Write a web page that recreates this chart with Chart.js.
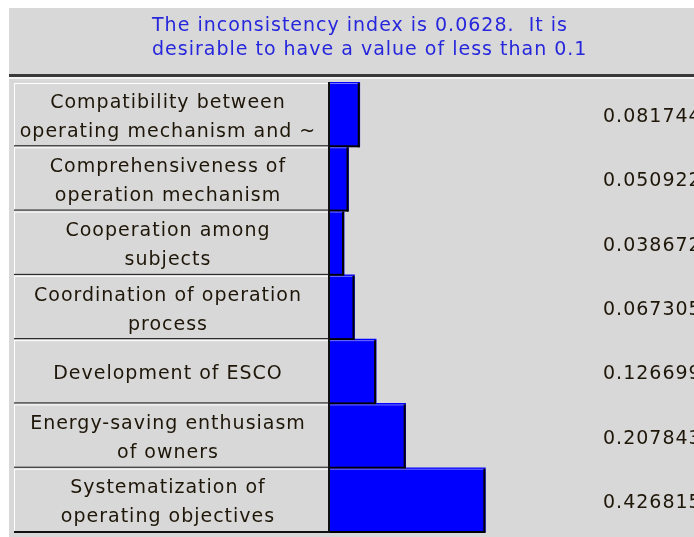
<!DOCTYPE html>
<html lang="en">
<head>
  <meta charset="UTF-8">
  <title>Priorities with respect to goal</title>
  <script src="https://cdn.jsdelivr.net/npm/chart.js"></script>
  <style>
    html, body {
      margin: 0;
      padding: 0;
      background-color: #ffffff;
    }
    #wrap {
      width: 694px;
      height: 537px;
    }
  </style>
</head>
<body>

  <div id="wrap"><canvas id="priorities" width="694" height="537"></canvas></div>

  <script>
    // data
    const categories = [
      ['Compatibility between', 'operating mechanism and ~'],
      ['Comprehensiveness of', 'operation mechanism'],
      ['Cooperation among', 'subjects'],
      ['Coordination of operation', 'process'],
      ['Development of ESCO'],
      ['Energy-saving enthusiasm', 'of owners'],
      ['Systematization of', 'operating objectives']
    ];
    const weights = [0.081744, 0.050922, 0.038672, 0.067305, 0.126699, 0.207843, 0.426815];
    const noteLines = ['The inconsistency index is 0.0628.  It is', 'desirable to have a value of less than 0.1'];

    const GRAY = '#d8d8d8';
    const FONT = '19px "DejaVu Sans"';

    // gray window + blue note on top
    const frame = {
      id: 'frame',
      beforeDraw(chart) {
        const c = chart.ctx;
        c.save();
        c.fillStyle = '#ffffff';
        c.fillRect(0, 0, chart.width, chart.height);
        c.fillStyle = GRAY;
        c.fillRect(9, 8, chart.width - 9, chart.height - 8);

        c.font = FONT;
        c.letterSpacing = '1px';
        c.fillStyle = '#2626dc';
        c.textBaseline = 'alphabetic';
        c.fillText(noteLines[0], 152, 31);
        c.fillText(noteLines[1], 152, 55);

        c.fillStyle = '#3a3a3a';
        c.fillRect(9, 74, chart.width - 9, 3);
        c.fillStyle = '#f4f4f4';
        c.fillRect(9, 77, chart.width - 9, 2);
        c.restore();
      }
    };

    // label boxes on the left and numbers on the right
    const rows = {
      id: 'rows',
      beforeDatasetsDraw(chart) {
        const c = chart.ctx;
        const y = chart.scales.y;
        const area = chart.chartArea;
        const h = (area.bottom - area.top) / categories.length;
        const boxL = 14, boxR = 328;
        c.save();
        categories.forEach((lines, i) => {
          const mid = y.getPixelForValue(i);
          const top = mid - h / 2;
          c.fillStyle = GRAY;
          c.fillRect(boxL, top, boxR - boxL, h);
          c.fillStyle = '#ffffff';
          c.fillRect(boxL, top + 1, boxR - boxL, 1);
          c.fillRect(boxL, top + 1, 1, h - 1);
          c.fillStyle = '#111111';
          c.fillRect(boxL, top + h - 1, boxR - boxL, 2);

          c.font = FONT;
          c.letterSpacing = '1px';
          c.fillStyle = '#1e1608';
          c.textAlign = 'center';
          c.textBaseline = 'alphabetic';
          lines.forEach((t, k) => {
            c.fillText(t, 168, mid + 8 + (k - (lines.length - 1) / 2) * 29);
          });

          // value column runs off the right edge, as in the window
          c.textAlign = 'left';
          c.fillText(weights[i].toFixed(6), 603, mid + 8);
        });
        c.fillStyle = '#111111';
        c.fillRect(boxR, area.top, 2, area.bottom - area.top + 1);
        c.restore();
      }
    };

    // raised look on the bars
    const barEdges = {
      id: 'barEdges',
      afterDatasetsDraw(chart) {
        const c = chart.ctx;
        c.save();
        chart.getDatasetMeta(0).data.forEach(bar => {
          const p = bar.getProps(['x', 'y', 'base', 'height'], true);
          const top = p.y - p.height / 2;
          const w = p.x - p.base;
          c.fillStyle = '#7070ff';
          c.fillRect(p.base, top + 1, w, 1);
          c.fillStyle = '#000000';
          c.fillRect(p.x - 2, top + 1, 2, p.height);
          c.fillRect(p.base, top + p.height - 1, w, 2);
        });
        c.restore();
      }
    };

    const ctx = document.getElementById('priorities').getContext('2d');

    new Chart(ctx, {
      type: 'bar',
      data: {
        labels: categories,
        datasets: [{
          data: weights,
          backgroundColor: '#0000ff',
          borderWidth: 0,
          categoryPercentage: 1,
          barPercentage: 1
        }]
      },
      options: {
        indexAxis: 'y',
        responsive: false,
        animation: false,
        devicePixelRatio: 1,
        layout: {
          padding: { left: 330, top: 82, right: -10, bottom: 5 }
        },
        scales: {
          x: { display: false, min: 0, max: 1 },
          y: { display: false }
        },
        plugins: {
          legend: { display: false },
          tooltip: { enabled: false }
        }
      },
      plugins: [frame, rows, barEdges]
    });
  </script>
</body>
</html>
